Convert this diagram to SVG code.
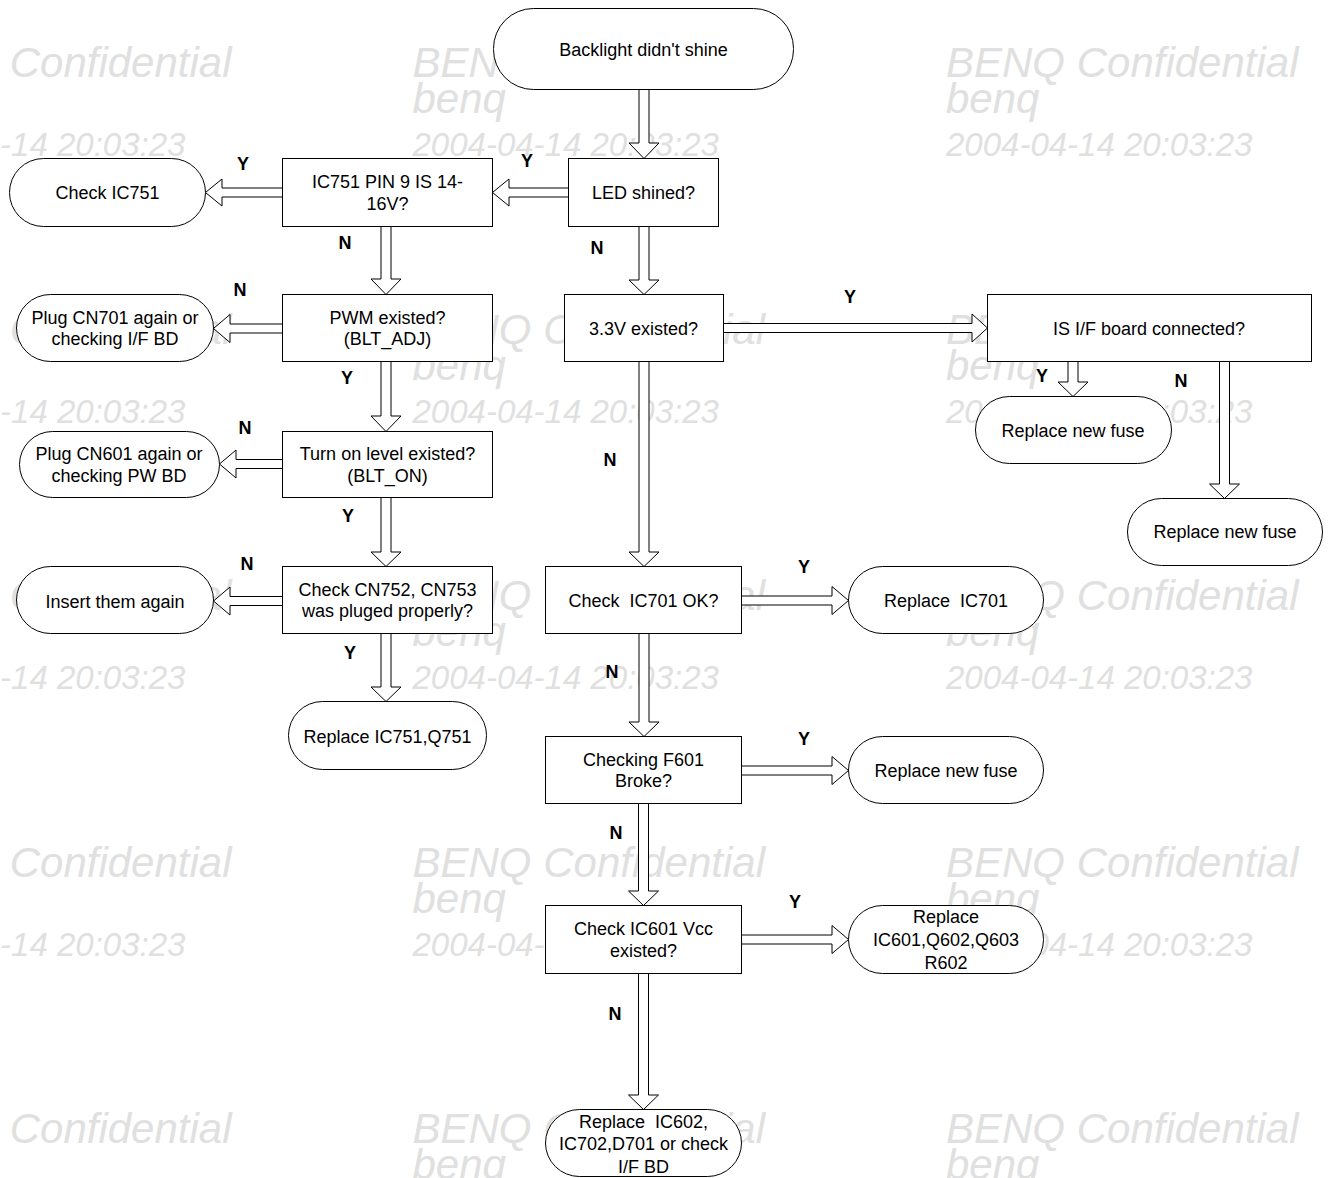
<svg xmlns="http://www.w3.org/2000/svg" width="1328" height="1178" viewBox="0 0 1328 1178">
<style>
.wm{font-family:"Liberation Sans",Arial,sans-serif;font-style:italic;fill:#e0e0e0;font-size:42px}
.wd{font-size:33px}
.n{fill:#fff;stroke:#000;stroke-width:1}
.t{font-family:"Liberation Sans",Arial,sans-serif;font-size:18px;fill:#000;text-anchor:middle}
.l{font-family:"Liberation Sans",Arial,sans-serif;font-size:18px;font-weight:bold;fill:#000;text-anchor:middle}
.a{fill:#fff;stroke:#000;stroke-width:1;stroke-linejoin:miter}
</style>
<rect width="1328" height="1178" fill="#fff"/>
<g id="watermark">
<g id="wm-r1">
<text class="wm" x="-121" y="77">BENQ Confidential</text><text class="wm" x="-121" y="113">benq</text><text class="wm wd" x="-121" y="156">2004-04-14 20:03:23</text>
<text class="wm" x="412.5" y="77">BENQ Confidential</text><text class="wm" x="412.5" y="113">benq</text><text class="wm wd" x="412.5" y="156">2004-04-14 20:03:23</text>
<text class="wm" x="946" y="77">BENQ Confidential</text><text class="wm" x="946" y="113">benq</text><text class="wm wd" x="946" y="156">2004-04-14 20:03:23</text>
</g>
<g id="wm-r2">
<text class="wm" x="-121" y="343.5">BENQ Confidential</text><text class="wm" x="-121" y="379.5">benq</text><text class="wm wd" x="-121" y="422.5">2004-04-14 20:03:23</text>
<text class="wm" x="412.5" y="343.5">BENQ Confidential</text><text class="wm" x="412.5" y="379.5">benq</text><text class="wm wd" x="412.5" y="422.5">2004-04-14 20:03:23</text>
<text class="wm" x="946" y="343.5">BENQ Confidential</text><text class="wm" x="946" y="379.5">benq</text><text class="wm wd" x="946" y="422.5">2004-04-14 20:03:23</text>
</g>
<g id="wm-r3">
<text class="wm" x="-121" y="610">BENQ Confidential</text><text class="wm" x="-121" y="646">benq</text><text class="wm wd" x="-121" y="689">2004-04-14 20:03:23</text>
<text class="wm" x="412.5" y="610">BENQ Confidential</text><text class="wm" x="412.5" y="646">benq</text><text class="wm wd" x="412.5" y="689">2004-04-14 20:03:23</text>
<text class="wm" x="946" y="610">BENQ Confidential</text><text class="wm" x="946" y="646">benq</text><text class="wm wd" x="946" y="689">2004-04-14 20:03:23</text>
</g>
<g id="wm-r4">
<text class="wm" x="-121" y="876.5">BENQ Confidential</text><text class="wm" x="-121" y="912.5">benq</text><text class="wm wd" x="-121" y="955.5">2004-04-14 20:03:23</text>
<text class="wm" x="412.5" y="876.5">BENQ Confidential</text><text class="wm" x="412.5" y="912.5">benq</text><text class="wm wd" x="412.5" y="955.5">2004-04-14 20:03:23</text>
<text class="wm" x="946" y="876.5">BENQ Confidential</text><text class="wm" x="946" y="912.5">benq</text><text class="wm wd" x="946" y="955.5">2004-04-14 20:03:23</text>
</g>
<g id="wm-r5">
<text class="wm" x="-121" y="1143">BENQ Confidential</text><text class="wm" x="-121" y="1179">benq</text>
<text class="wm" x="412.5" y="1143">BENQ Confidential</text><text class="wm" x="412.5" y="1179">benq</text>
<text class="wm" x="946" y="1143">BENQ Confidential</text><text class="wm" x="946" y="1179">benq</text>
</g>
</g>
<g id="connectors">
<polygon class="a" points="639,89.5 649,89.5 649,143 659,143 644,158.5 629,143 639,143"/>
<polygon class="a" points="639,226.5 649,226.5 649,280 659,280 644,294.5 629,280 639,280"/>
<polygon class="a" points="639,361.5 649,361.5 649,552 659,552 644,566.5 629,552 639,552"/>
<polygon class="a" points="639,633.5 649,633.5 649,722 659,722 644,736.5 629,722 639,722"/>
<polygon class="a" points="638.5,803.5 648.5,803.5 648.5,891 658.5,891 643.5,905.5 628.5,891 638.5,891"/>
<polygon class="a" points="638.5,973.5 648.5,973.5 648.5,1095 658.5,1095 643.5,1109.5 628.5,1095 638.5,1095"/>
<polygon class="a" points="381,226.5 391,226.5 391,279 401,279 386,294.5 371,279 381,279"/>
<polygon class="a" points="381,361.5 391,361.5 391,416 401,416 386,431.5 371,416 381,416"/>
<polygon class="a" points="381,497.5 391,497.5 391,552 401,552 386,566.5 371,552 381,552"/>
<polygon class="a" points="381,633.5 391,633.5 391,687 401,687 386,701.5 371,687 381,687"/>
<polygon class="a" points="568.5,188 509,188 509,179 492.5,192.5 509,206 509,197 568.5,197"/>
<polygon class="a" points="282.5,188 222,188 222,179 205.5,192.5 222,206 222,197 282.5,197"/>
<polygon class="a" points="282.5,324 230,324 230,314.5 213.5,328.5 230,342.5 230,333 282.5,333"/>
<polygon class="a" points="282.5,459.5 236,459.5 236,450 219.5,464 236,478 236,468.5 282.5,468.5"/>
<polygon class="a" points="282.5,596.5 230,596.5 230,587 213.5,601 230,615 230,605.5 282.5,605.5"/>
<polygon class="a" points="723.5,323.5 972,323.5 972,314 987.5,328 972,342 972,332.5 723.5,332.5"/>
<polygon class="a" points="741.5,596 832,596 832,586.5 848.5,600.5 832,614.5 832,605 741.5,605"/>
<polygon class="a" points="741.5,766 832,766 832,756.5 848.5,770.5 832,784.5 832,775 741.5,775"/>
<polygon class="a" points="741.5,935 832,935 832,925.5 848.5,939.5 832,953.5 832,944 741.5,944"/>
<polygon class="a" points="1068,361.5 1078,361.5 1078,382 1088,382 1073,396.5 1058,382 1068,382"/>
<polygon class="a" points="1219.5,361.5 1229.5,361.5 1229.5,484 1239.5,484 1224.5,498.5 1209.5,484 1219.5,484"/>
<text class="l" x="243" y="169.5">Y</text>
<text class="l" x="527" y="166.5">Y</text>
<text class="l" x="345" y="248.5">N</text>
<text class="l" x="597" y="253.5">N</text>
<text class="l" x="240" y="295.5">N</text>
<text class="l" x="347" y="383.5">Y</text>
<text class="l" x="245" y="433.5">N</text>
<text class="l" x="348" y="521.5">Y</text>
<text class="l" x="247" y="569.5">N</text>
<text class="l" x="350" y="658.5">Y</text>
<text class="l" x="850" y="302.5">Y</text>
<text class="l" x="1042" y="381.5">Y</text>
<text class="l" x="1181" y="386.5">N</text>
<text class="l" x="610" y="465.5">N</text>
<text class="l" x="804" y="573">Y</text>
<text class="l" x="612" y="678">N</text>
<text class="l" x="804" y="744.5">Y</text>
<text class="l" x="616" y="839">N</text>
<text class="l" x="795" y="908">Y</text>
<text class="l" x="615" y="1019.5">N</text>
</g>
<g id="start"><rect class="n" x="493.5" y="8.5" width="300" height="81" rx="40" ry="40"/><text class="t" x="643.5" y="56">Backlight didn't shine</text></g>
<g id="led"><rect class="n" x="568.5" y="158.5" width="150" height="68"/><text class="t" x="643.5" y="199">LED shined?</text></g>
<g id="ic751pin"><rect class="n" x="282.5" y="158.5" width="210" height="68"/><text class="t" x="387.5" y="188">IC751 PIN 9 IS 14-</text><text class="t" x="387.5" y="209.5">16V?</text></g>
<g id="checkic751"><rect class="n" x="9.5" y="158.5" width="196" height="68" rx="34" ry="34"/><text class="t" x="107.5" y="198.5">Check IC751</text></g>
<g id="pwm"><rect class="n" x="282.5" y="294.5" width="210" height="67"/><text class="t" x="387.5" y="323.5">PWM existed?</text><text class="t" x="387.5" y="345">(BLT_ADJ)</text></g>
<g id="cn701"><rect class="n" x="16.5" y="294.5" width="197" height="67" rx="34" ry="33.5"/><text class="t" x="115" y="323.5">Plug CN701 again or</text><text class="t" x="115" y="345">checking I/F BD</text></g>
<g id="turnon"><rect class="n" x="282.5" y="431.5" width="210" height="66"/><text class="t" x="387.5" y="460">Turn on level existed?</text><text class="t" x="387.5" y="481.5">(BLT_ON)</text></g>
<g id="cn601"><rect class="n" x="19.5" y="431.5" width="200" height="66" rx="33" ry="33"/><text class="t" x="119" y="460">Plug CN601 again or</text><text class="t" x="119" y="481.5">checking PW BD</text></g>
<g id="cn752"><rect class="n" x="282.5" y="566.5" width="210" height="67"/><text class="t" x="387.5" y="595.5">Check CN752, CN753</text><text class="t" x="387.5" y="617">was pluged properly?</text></g>
<g id="insert"><rect class="n" x="16.5" y="566.5" width="197" height="67" rx="34" ry="33.5"/><text class="t" x="115" y="607.5">Insert them again</text></g>
<g id="replace751"><rect class="n" x="288.5" y="701.5" width="198" height="68" rx="34" ry="34"/><text class="t" x="387.5" y="743">Replace IC751,Q751</text></g>
<g id="v33"><rect class="n" x="564.5" y="294.5" width="159" height="67"/><text class="t" x="643.5" y="334.5">3.3V existed?</text></g>
<g id="ifboard"><rect class="n" x="987.5" y="294.5" width="324" height="67"/><text class="t" x="1149" y="334.5">IS I/F board connected?</text></g>
<g id="fuse1"><rect class="n" x="975.5" y="396.5" width="196" height="67" rx="34" ry="33.5"/><text class="t" x="1073" y="436.5">Replace new fuse</text></g>
<g id="fuse2"><rect class="n" x="1127.5" y="498.5" width="195" height="67" rx="34" ry="33.5"/><text class="t" x="1225" y="538">Replace new fuse</text></g>
<g id="ic701"><rect class="n" x="545.5" y="566.5" width="196" height="67"/><text class="t" x="643.5" y="606.5" xml:space="preserve">Check  IC701 OK?</text></g>
<g id="replace701"><rect class="n" x="848.5" y="566.5" width="195" height="67" rx="34" ry="33.5"/><text class="t" x="946" y="606.5" xml:space="preserve">Replace  IC701</text></g>
<g id="f601"><rect class="n" x="545.5" y="736.5" width="196" height="67"/><text class="t" x="643.5" y="765.5">Checking F601</text><text class="t" x="643.5" y="787">Broke?</text></g>
<g id="fuse3"><rect class="n" x="848.5" y="736.5" width="195" height="67" rx="34" ry="33.5"/><text class="t" x="946" y="776.5">Replace new fuse</text></g>
<g id="ic601"><rect class="n" x="545.5" y="905.5" width="196" height="68"/><text class="t" x="643.5" y="935">Check IC601 Vcc</text><text class="t" x="643.5" y="956.5">existed?</text></g>
<g id="replace601"><rect class="n" x="848.5" y="905.5" width="195" height="68" rx="34" ry="34"/><text class="t" x="946" y="923">Replace</text><text class="t" x="946" y="946">IC601,Q602,Q603</text><text class="t" x="946" y="969">R602</text></g>
<g id="final"><rect class="n" x="545.5" y="1109.5" width="196" height="67" rx="34" ry="33.5"/><text class="t" x="643.5" y="1127.5" xml:space="preserve">Replace  IC602,</text><text class="t" x="643.5" y="1150">IC702,D701 or check</text><text class="t" x="643.5" y="1172.5">I/F BD</text></g>
</svg>
